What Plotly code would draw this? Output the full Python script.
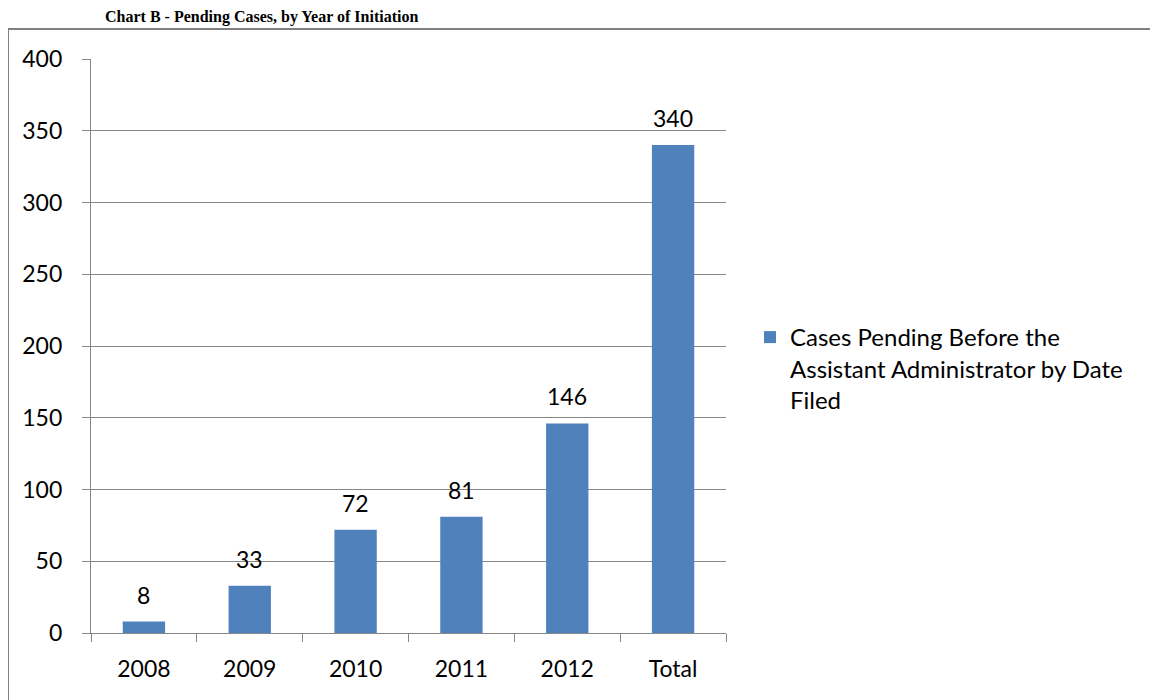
import plotly.graph_objects as go

categories = ["2008", "2009", "2010", "2011", "2012", "Total"]
values = [8, 33, 72, 81, 146, 340]
series_name = "Cases Pending Before the<br>Assistant Administrator by Date<br>Filed"
title_text = "Chart B - Pending Cases, by Year of Initiation"
y_ticks = [0, 50, 100, 150, 200, 250, 300, 350, 400]

W, H = 1158, 700
# plot area in figure pixels (page adds an 8px body margin)
L, R, T, B = 83, 718, 51, 625

BAR = "#4F81BD"
GRID = "#868686"
FONT = "Lato, Carlito, Calibri, sans-serif"
FS = 23

def px_x(p):
    return (p - L) / (R - L)

def px_y(p):
    return (B - p) / (B - T)

fig = go.Figure()
fig.add_trace(go.Bar(
    x=categories, y=values, name=series_name,
    marker=dict(color=BAR, line=dict(width=0)),
    showlegend=True,
))

for i, v in enumerate(values):
    fig.add_annotation(x=i, y=v, text=str(v), showarrow=False,
                       yanchor="bottom", yshift=11,
                       font=dict(family=FONT, size=FS, color="black"))

# outer chart border
fig.add_shape(type="rect", xref="paper", yref="paper",
              x0=px_x(0), x1=px_x(1160), y0=px_y(710), y1=px_y(21),
              line=dict(color="#808080", width=2), layer="below")

fig.update_layout(
    width=W, height=H,
    margin=dict(l=L, r=W - R, t=T, b=H - B, pad=0),
    paper_bgcolor="white", plot_bgcolor="white",
    bargap=0.6,
    font=dict(family=FONT, size=FS, color="black"),
    title=dict(text="<b>" + title_text + "</b>", xref="container", yref="container",
               x=97 / W, xanchor="left", y=1 - 3 / H, yanchor="top",
               pad=dict(t=0, b=0, l=0, r=0),
               font=dict(family="Liberation Serif, Times New Roman, serif", size=16, color="black")),
    legend=dict(x=px_x(742), xanchor="left", y=px_y(307), yanchor="top",
                valign="top",
                font=dict(family=FONT, size=24, color="black"),
                itemwidth=30, tracegroupgap=0, bgcolor="rgba(0,0,0,0)"),
    xaxis=dict(type="category", range=[-0.5, len(categories) - 0.5],
               showline=True, linecolor=GRID, linewidth=1.3, automargin=False,
               ticks="outside", tickson="boundaries", ticklen=8, tickcolor=GRID,
               tickwidth=1.3, showgrid=False, ticklabelstandoff=15, tickangle=0,
               tickfont=dict(family=FONT, size=FS, color="black")),
    yaxis=dict(range=[0, 400], tickvals=y_ticks, showline=True, linecolor=GRID,
               linewidth=1.3, ticks="outside", ticklen=8, tickcolor=GRID, tickwidth=1.3,
               showgrid=True, gridcolor=GRID, gridwidth=1.3, zeroline=False,
               automargin=False, ticklabelstandoff=15,
               tickfont=dict(family=FONT, size=FS, color="black")),
)

fig.write_html("out.html")
